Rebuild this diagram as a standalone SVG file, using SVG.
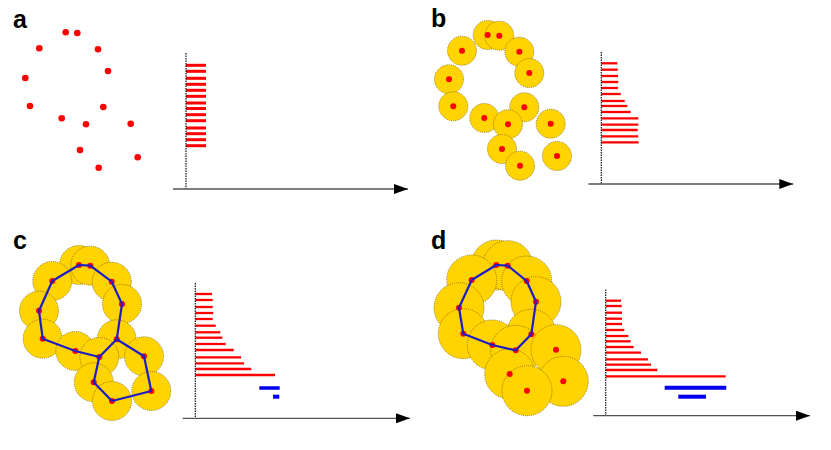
<svg xmlns="http://www.w3.org/2000/svg" width="831" height="450" viewBox="0 0 831 450">
<style>
.lbl{font-family:"Liberation Sans",Arial,sans-serif;font-weight:bold;font-size:25px;fill:#000}
.pt{fill:#ff0000}
.ball{fill:#ffd400;stroke:#6b5a00;stroke-width:0.7;stroke-dasharray:1,1}
.vax{stroke:#111;stroke-width:1.2;stroke-dasharray:1.5,1;fill:none}
.hax{stroke:#555;stroke-width:1.3;fill:none}
.bar{stroke:#ff0000;stroke-width:2.3}
.bara{stroke:#ff0000;stroke-width:3}
.blue{stroke:#0000ee;stroke-width:3.5}
.poly{stroke:#1c1cc8;stroke-width:2.2;fill:none;stroke-linejoin:round}
</style>
<defs>
<marker id="arr" markerWidth="14" markerHeight="10" refX="14" refY="5" orient="auto" markerUnits="userSpaceOnUse">
<path d="M0,0 L14,5 L0,10 Z" fill="#000"/>
</marker>
</defs>
<rect width="831" height="450" fill="#fff"/>

<!-- Panel a -->
<g id="panel-a">
<text class="lbl" x="13" y="28">a</text>
<g id="points-a">
<circle class="pt" cx="65.7" cy="32.3" r="3.3"/><circle class="pt" cx="77.3" cy="33" r="3.3"/>
<circle class="pt" cx="39.3" cy="48.3" r="3.3"/><circle class="pt" cx="98" cy="49.3" r="3.3"/>
<circle class="pt" cx="108" cy="71" r="3.3"/><circle class="pt" cx="25.3" cy="78" r="3.3"/>
<circle class="pt" cx="30" cy="106" r="3.3"/><circle class="pt" cx="103.3" cy="107" r="3.3"/>
<circle class="pt" cx="61.7" cy="118.3" r="3.3"/><circle class="pt" cx="86" cy="124.3" r="3.3"/>
<circle class="pt" cx="130.7" cy="123.7" r="3.3"/><circle class="pt" cx="80" cy="150" r="3.3"/>
<circle class="pt" cx="137.7" cy="157.3" r="3.3"/><circle class="pt" cx="98.7" cy="167.7" r="3.3"/>
</g>
<g id="barcode-a">
<line class="bara" x1="186" y1="65.3" x2="206" y2="65.3"/><line class="bara" x1="186" y1="71.3" x2="206" y2="71.3"/>
<line class="bara" x1="186" y1="78.3" x2="206" y2="78.3"/><line class="bara" x1="186" y1="84.3" x2="206" y2="84.3"/>
<line class="bara" x1="186" y1="90.3" x2="206" y2="90.3"/><line class="bara" x1="186" y1="96.3" x2="206" y2="96.3"/>
<line class="bara" x1="186" y1="103" x2="206" y2="103"/><line class="bara" x1="186" y1="108.5" x2="206" y2="108.5"/>
<line class="bara" x1="186" y1="114.7" x2="206" y2="114.7"/><line class="bara" x1="186" y1="120.7" x2="206" y2="120.7"/>
<line class="bara" x1="186" y1="128" x2="206" y2="128"/><line class="bara" x1="186" y1="133.7" x2="206" y2="133.7"/>
<line class="bara" x1="186" y1="139.7" x2="206" y2="139.7"/><line class="bara" x1="186" y1="145.7" x2="206" y2="145.7"/>
</g>
<line class="vax" x1="186" y1="53" x2="186" y2="189"/>
<line class="hax" x1="173" y1="189" x2="408" y2="189" marker-end="url(#arr)"/>
</g>

<!-- Panel b -->
<g id="panel-b">
<text class="lbl" x="431" y="27">b</text>
<g id="balls-b">
<circle class="ball" cx="487.7" cy="35" r="14.5"/><circle class="ball" cx="499.3" cy="35.7" r="14.5"/>
<circle class="ball" cx="462" cy="50.7" r="14.5"/><circle class="ball" cx="519.3" cy="51.7" r="14.5"/>
<circle class="ball" cx="529.3" cy="73" r="14.5"/><circle class="ball" cx="449" cy="79.3" r="14.5"/>
<circle class="ball" cx="453.3" cy="106.3" r="14.5"/><circle class="ball" cx="524.3" cy="107.3" r="14.5"/>
<circle class="ball" cx="484.3" cy="118" r="14.5"/><circle class="ball" cx="508" cy="124.3" r="14.5"/>
<circle class="ball" cx="550.7" cy="123.7" r="14.5"/><circle class="ball" cx="502" cy="149" r="14.5"/>
<circle class="ball" cx="557" cy="156" r="14.5"/><circle class="ball" cx="520" cy="165.7" r="14.5"/>
</g>
<g id="points-b">
<circle class="pt" cx="487.7" cy="35" r="3"/><circle class="pt" cx="499.3" cy="35.7" r="3"/>
<circle class="pt" cx="462" cy="50.7" r="3"/><circle class="pt" cx="519.3" cy="51.7" r="3"/>
<circle class="pt" cx="529.3" cy="73" r="3"/><circle class="pt" cx="449" cy="79.3" r="3"/>
<circle class="pt" cx="453.3" cy="106.3" r="3"/><circle class="pt" cx="524.3" cy="107.3" r="3"/>
<circle class="pt" cx="484.3" cy="118" r="3"/><circle class="pt" cx="508" cy="124.3" r="3"/>
<circle class="pt" cx="550.7" cy="123.7" r="3"/><circle class="pt" cx="502" cy="149" r="3"/>
<circle class="pt" cx="557" cy="156" r="3"/><circle class="pt" cx="520" cy="165.7" r="3"/>
</g>
<g id="barcode-b">
<line class="bar" x1="601.3" y1="63.3" x2="617.3" y2="63.3"/><line class="bar" x1="601.3" y1="69.7" x2="617.7" y2="69.7"/>
<line class="bar" x1="601.3" y1="76" x2="618" y2="76"/><line class="bar" x1="601.3" y1="82" x2="618.3" y2="82"/>
<line class="bar" x1="601.3" y1="88" x2="618" y2="88"/><line class="bar" x1="601.3" y1="94" x2="620.7" y2="94"/>
<line class="bar" x1="601.3" y1="101" x2="624.7" y2="101"/><line class="bar" x1="601.3" y1="106" x2="627.3" y2="106"/>
<line class="bar" x1="601.3" y1="112" x2="630.7" y2="112"/><line class="bar" x1="601.3" y1="118.3" x2="638.3" y2="118.3"/>
<line class="bar" x1="601.3" y1="124.7" x2="638.3" y2="124.7"/><line class="bar" x1="601.3" y1="130" x2="637.7" y2="130"/>
<line class="bar" x1="601.3" y1="136.3" x2="638.3" y2="136.3"/><line class="bar" x1="601.3" y1="142.3" x2="638.7" y2="142.3"/>
</g>
<line class="vax" x1="601.3" y1="52" x2="601.3" y2="184"/>
<line class="hax" x1="588.3" y1="184" x2="793.3" y2="184" marker-end="url(#arr)"/>
</g>

<!-- Panel c -->
<g id="panel-c">
<text class="lbl" x="13" y="248.5">c</text>
<g id="balls-c">
<circle class="ball" cx="79" cy="265" r="19.5"/><circle class="ball" cx="90.3" cy="265.7" r="19.5"/>
<circle class="ball" cx="52.3" cy="281" r="19.5"/><circle class="ball" cx="111.7" cy="281.7" r="19.5"/>
<circle class="ball" cx="122" cy="304" r="19.5"/><circle class="ball" cx="39" cy="310.7" r="19.5"/>
<circle class="ball" cx="42.7" cy="338.7" r="19.5"/><circle class="ball" cx="116.7" cy="339.3" r="19.5"/>
<circle class="ball" cx="75.3" cy="351" r="19.5"/><circle class="ball" cx="99.3" cy="357" r="19.5"/>
<circle class="ball" cx="144" cy="356.3" r="19.5"/><circle class="ball" cx="93.7" cy="382.3" r="19.5"/>
<circle class="ball" cx="151.3" cy="391" r="19.5"/><circle class="ball" cx="112" cy="401" r="19.5"/>
</g>
<g id="points-c">
<circle class="pt" cx="79" cy="265" r="3"/><circle class="pt" cx="90.3" cy="265.7" r="3"/>
<circle class="pt" cx="52.3" cy="281" r="3"/><circle class="pt" cx="111.7" cy="281.7" r="3"/>
<circle class="pt" cx="122" cy="304" r="3"/><circle class="pt" cx="39" cy="310.7" r="3"/>
<circle class="pt" cx="42.7" cy="338.7" r="3"/><circle class="pt" cx="116.7" cy="339.3" r="3"/>
<circle class="pt" cx="75.3" cy="351" r="3"/><circle class="pt" cx="99.3" cy="357" r="3"/>
<circle class="pt" cx="144" cy="356.3" r="3"/><circle class="pt" cx="93.7" cy="382.3" r="3"/>
<circle class="pt" cx="151.3" cy="391" r="3"/><circle class="pt" cx="112" cy="401" r="3"/>
</g>
<g id="cycles-c">
<polygon class="poly" points="79,265 90.3,265.7 111.7,281.7 122,304 116.7,339.3 99.3,357 75.3,351 42.7,338.7 39,310.7 52.3,281"/>
<polyline class="poly" points="99.3,357 93.7,382.3 112,401 151.3,391 144,356.3 116.7,339.3"/>
</g>
<g id="barcode-c">
<line class="bar" x1="195.3" y1="294" x2="212" y2="294"/><line class="bar" x1="195.3" y1="300" x2="212.7" y2="300"/>
<line class="bar" x1="195.3" y1="307" x2="212.7" y2="307"/><line class="bar" x1="195.3" y1="313" x2="213.3" y2="313"/>
<line class="bar" x1="195.3" y1="319" x2="212.7" y2="319"/><line class="bar" x1="195.3" y1="325.7" x2="215.7" y2="325.7"/>
<line class="bar" x1="195.3" y1="332.3" x2="220.3" y2="332.3"/><line class="bar" x1="195.3" y1="337.7" x2="222.3" y2="337.7"/>
<line class="bar" x1="195.3" y1="344" x2="225.7" y2="344"/><line class="bar" x1="195.3" y1="350" x2="233.7" y2="350"/>
<line class="bar" x1="195.3" y1="357.3" x2="241" y2="357.3"/><line class="bar" x1="195.3" y1="363.3" x2="244" y2="363.3"/>
<line class="bar" x1="195.3" y1="369" x2="251.3" y2="369"/><line class="bar" x1="195.3" y1="375" x2="275" y2="375"/>
<line class="blue" x1="259.3" y1="388" x2="279.7" y2="388"/>
<line class="blue" x1="273" y1="396.7" x2="279.3" y2="396.7" style="stroke-width:4"/>
</g>
<line class="vax" x1="195.3" y1="283" x2="195.3" y2="418.3"/>
<line class="hax" x1="182.7" y1="418.3" x2="410" y2="418.3" marker-end="url(#arr)"/>
</g>

<!-- Panel d -->
<g id="panel-d">
<text class="lbl" x="431" y="248.5">d</text>
<g id="balls-d">
<circle class="ball" cx="496.3" cy="265" r="25"/><circle class="ball" cx="507.7" cy="265.7" r="25"/>
<circle class="ball" cx="471.7" cy="280" r="25"/><circle class="ball" cx="526.7" cy="281" r="25"/>
<circle class="ball" cx="536" cy="301.7" r="25"/><circle class="ball" cx="459" cy="307.7" r="25"/>
<circle class="ball" cx="463.3" cy="333.7" r="25"/><circle class="ball" cx="531.3" cy="334.3" r="25"/>
<circle class="ball" cx="492.3" cy="345" r="25"/><circle class="ball" cx="515.7" cy="350.3" r="25"/>
<circle class="ball" cx="556" cy="349.7" r="25"/><circle class="ball" cx="509.7" cy="374" r="25"/>
<circle class="ball" cx="563.3" cy="381.3" r="25"/><circle class="ball" cx="527" cy="390.7" r="25"/>
</g>
<g id="points-d">
<circle class="pt" cx="496.3" cy="265" r="3"/><circle class="pt" cx="507.7" cy="265.7" r="3"/>
<circle class="pt" cx="471.7" cy="280" r="3"/><circle class="pt" cx="526.7" cy="281" r="3"/>
<circle class="pt" cx="536" cy="301.7" r="3"/><circle class="pt" cx="459" cy="307.7" r="3"/>
<circle class="pt" cx="463.3" cy="333.7" r="3"/><circle class="pt" cx="531.3" cy="334.3" r="3"/>
<circle class="pt" cx="492.3" cy="345" r="3"/><circle class="pt" cx="515.7" cy="350.3" r="3"/>
<circle class="pt" cx="556" cy="349.7" r="3"/><circle class="pt" cx="509.7" cy="374" r="3"/>
<circle class="pt" cx="563.3" cy="381.3" r="3"/><circle class="pt" cx="527" cy="390.7" r="3"/>
</g>
<g id="cycles-d">
<polygon class="poly" points="496.3,265 507.7,265.7 526.7,281 536,301.7 531.3,334.3 515.7,350.3 492.3,345 463.3,333.7 459,307.7 471.7,280"/>
</g>
<g id="barcode-d">
<line class="bar" x1="605.7" y1="300.7" x2="621" y2="300.7"/><line class="bar" x1="605.7" y1="306" x2="621.7" y2="306"/>
<line class="bar" x1="605.7" y1="312.7" x2="622" y2="312.7"/><line class="bar" x1="605.7" y1="318.7" x2="622" y2="318.7"/>
<line class="bar" x1="605.7" y1="324" x2="622" y2="324"/><line class="bar" x1="605.7" y1="330" x2="624.3" y2="330"/>
<line class="bar" x1="605.7" y1="336" x2="628.3" y2="336"/><line class="bar" x1="605.7" y1="341.3" x2="630.7" y2="341.3"/>
<line class="bar" x1="605.7" y1="347" x2="633.7" y2="347"/><line class="bar" x1="605.7" y1="352.7" x2="641" y2="352.7"/>
<line class="bar" x1="605.7" y1="359.3" x2="648" y2="359.3"/><line class="bar" x1="605.7" y1="364.7" x2="651" y2="364.7"/>
<line class="bar" x1="605.7" y1="370" x2="657.3" y2="370"/><line class="bar" x1="605.7" y1="376.3" x2="725.7" y2="376.3"/>
<line class="blue" x1="664.7" y1="387.7" x2="726.3" y2="387.7" style="stroke-width:4"/>
<line class="blue" x1="678.3" y1="396.7" x2="706" y2="396.7" style="stroke-width:4"/>
</g>
<line class="vax" x1="605.7" y1="289.5" x2="605.7" y2="416"/>
<line class="hax" x1="593.3" y1="415.7" x2="810" y2="415.7" marker-end="url(#arr)"/>
</g>
</svg>
